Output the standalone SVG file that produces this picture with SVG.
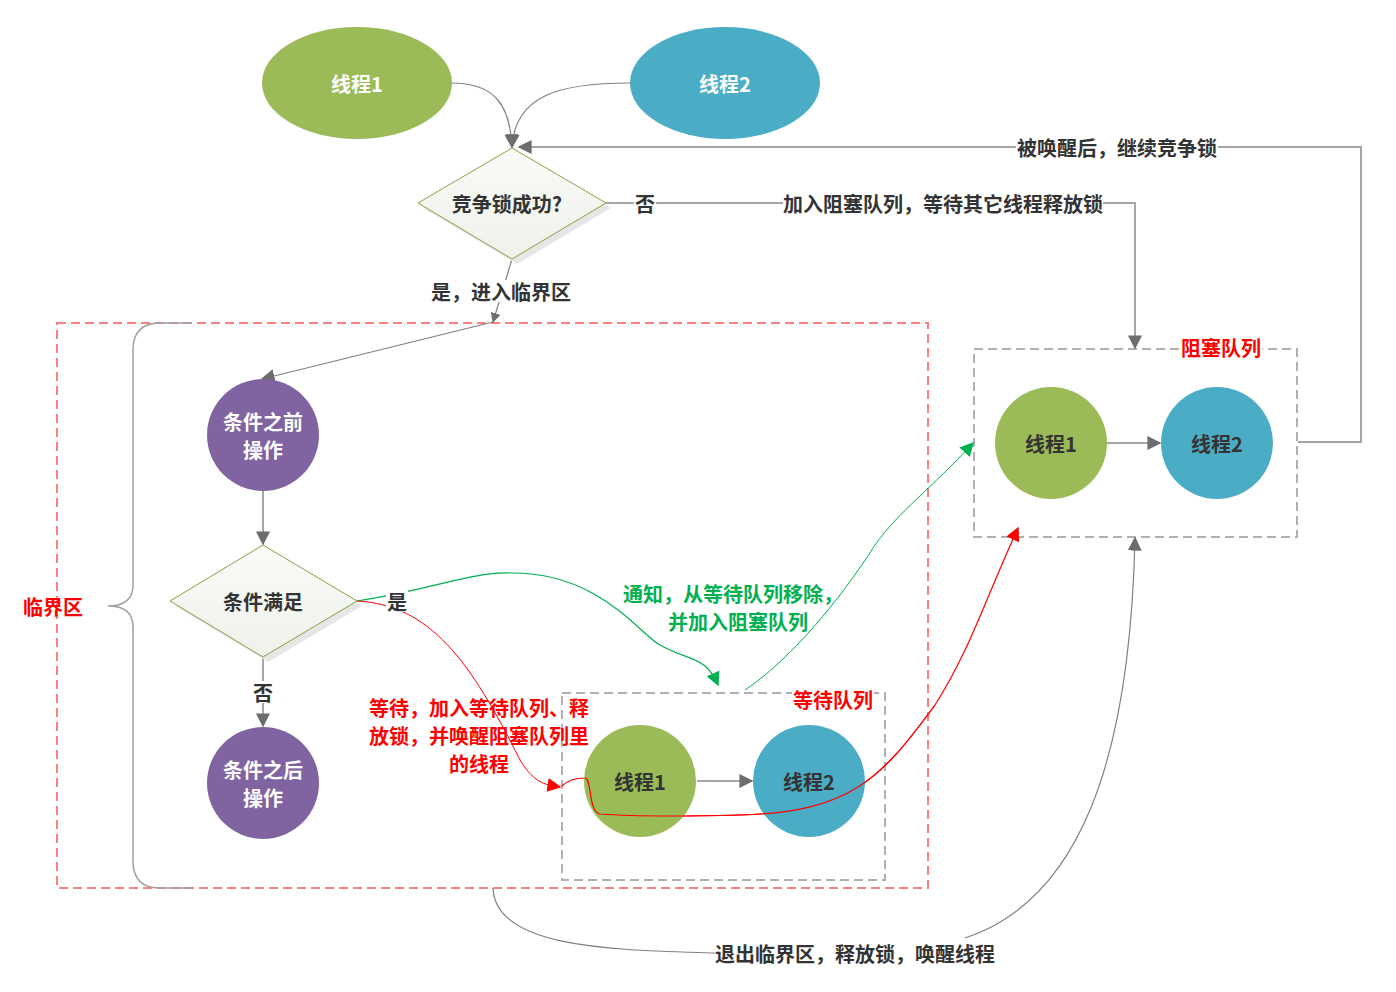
<svg xmlns="http://www.w3.org/2000/svg" width="1396" height="992" viewBox="0 0 1396 992">
<style>
text{font-family:"Noto Sans CJK SC","Liberation Sans",sans-serif;font-weight:bold;font-size:20px;text-anchor:middle;dominant-baseline:central;fill:#333}
.w{fill:#fff}
.red{fill:#f00}
.grn{fill:#00b050}
.c{fill:none;stroke:#808080;stroke-width:1.2}
.cg{fill:none;stroke:#a6a6a6;stroke-width:2}
.bg{fill:#fff;stroke:none}
</style>
<defs>
<marker id="ah" viewBox="0 0 10 10" refX="9" refY="5" markerWidth="10" markerHeight="10" markerUnits="userSpaceOnUse" orient="auto"><path d="M0,0L10,5L0,10z" fill="#6d6d6d"/></marker>
<marker id="ahL" viewBox="0 0 10 10" refX="9" refY="5" markerWidth="14" markerHeight="14" markerUnits="userSpaceOnUse" orient="auto"><path d="M0,0L10,5L0,10z" fill="#6d6d6d"/></marker>
<marker id="ahG" viewBox="0 0 10 10" refX="9" refY="5" markerWidth="14" markerHeight="14" markerUnits="userSpaceOnUse" orient="auto"><path d="M0,0L10,5L0,10z" fill="#00b050"/></marker>
<marker id="ahR" viewBox="0 0 10 10" refX="9" refY="5" markerWidth="14" markerHeight="14" markerUnits="userSpaceOnUse" orient="auto"><path d="M0,0L10,5L0,10z" fill="#f00"/></marker>
<linearGradient id="dg" x1="0" y1="0" x2="0" y2="1"><stop offset="0" stop-color="#fafbf8"/><stop offset="1" stop-color="#eef2ea"/></linearGradient>
</defs>
<rect width="1396" height="992" fill="#fff"/>

<g id="containers">
<rect x="57" y="323" width="871" height="565" fill="none" stroke="#ff7f7f" stroke-width="2" stroke-dasharray="9,5"/>
<rect x="974" y="349" width="323" height="188" fill="none" stroke="#b0b0b0" stroke-width="2" stroke-dasharray="9,5"/>
<rect x="562" y="693" width="323" height="187" fill="none" stroke="#b0b0b0" stroke-width="2" stroke-dasharray="9,5"/>
<path d="M192,323 L160,323 Q133,323 133,350 L133,585 Q133,606 108,606 Q133,606 133,627 L133,861 Q133,888 160,888 L192,888" fill="none" stroke="#a0a0a0" stroke-width="1.5"/>
<rect x="1180" y="336" width="82" height="22" class="bg"/>
<text x="1221" y="347" class="red">阻塞队列</text>
<rect x="792" y="688" width="82" height="22" class="bg"/>
<text x="833" y="699" class="red">等待队列</text>
<text x="53" y="606" class="red">临界区</text>
</g>

<g id="connectors">
<path d="M451,83 C495,83 510,105 512,147" class="c" marker-end="url(#ahL)"/>
<path d="M630,83 C560,83 515,95 512,147" class="c" marker-end="url(#ahL)"/>
<path d="M1298,442 L1361,442 L1361,147 L519,147" class="cg" marker-end="url(#ahL)"/>
<path d="M606,203 L1135,203 L1135,348" class="cg" marker-end="url(#ahL)"/>
<path d="M512,259 L493,322" class="c" marker-end="url(#ah)"/>
<path d="M493,322 L262,379" class="c" marker-end="url(#ahL)"/>
<path d="M263,491 L263,544" class="cg" marker-end="url(#ahL)"/>
<path d="M263,657 L263,726" class="cg" marker-end="url(#ahL)"/>
<path d="M1107,443 L1160,443" class="cg" marker-end="url(#ahL)"/>
<path d="M697,781 L752,781" class="cg" marker-end="url(#ahL)"/>
<path d="M357,601 C430,590 470,572 510,573 C600,572 640,635 660,645 C690,662 705,655 718,685" fill="none" stroke="#00b050" stroke-width="1.2" marker-end="url(#ahG)"/>
<path d="M745,690 C790,660 840,600 875,545 C900,510 930,490 973,443" fill="none" stroke="#00b050" stroke-width="1" marker-end="url(#ahG)"/>
<path d="M357,601 C430,605 470,660 520,760 C535,785 548,785 560,787" fill="none" stroke="#f00" stroke-width="1" marker-end="url(#ahR)"/>
<path d="M562,786 C568,780 578,778 585,778 C592,778 588,812 600,814 C640,817 700,816 740,815 C850,812 880,780 935,705 C970,650 985,600 1018,528" fill="none" stroke="#f00" stroke-width="1.2" marker-end="url(#ahR)"/>
<path d="M493,888 C495,950 620,950 715,953" class="c"/>
<path d="M965,938 C1080,900 1130,760 1135,538" class="c" marker-end="url(#ahL)"/>
<rect x="1016" y="136" width="202" height="22" class="bg"/>
<text x="1117" y="147">被唤醒后，继续竞争锁</text>
<rect x="634" y="192" width="22" height="22" class="bg"/>
<text x="645" y="203">否</text>
<rect x="783" y="192" width="320" height="22" class="bg"/>
<text x="943" y="203">加入阻塞队列，等待其它线程释放锁</text>
<rect x="430" y="280" width="142" height="22" class="bg"/>
<text x="501" y="291">是，进入临界区</text>
<rect x="386" y="590" width="22" height="22" class="bg"/>
<text x="397" y="601">是</text>
<rect x="252" y="681" width="22" height="22" class="bg"/>
<text x="263" y="692">否</text>
<text x="733" y="593" class="grn">通知，从等待队列移除，</text>
<text x="738" y="621" class="grn">并加入阻塞队列</text>
<text x="479" y="707" class="red">等待，加入等待队列、释</text>
<text x="479" y="735" class="red">放锁，并唤醒阻塞队列里</text>
<text x="479" y="763" class="red">的线程</text>
<text x="855" y="953">退出临界区，释放锁，唤醒线程</text>
</g>

<g id="t1-top"><ellipse cx="357" cy="83" rx="95" ry="56" fill="#9bbb59"/><text x="357" y="83" class="w">线程1</text></g>
<g id="t2-top"><ellipse cx="725" cy="83" rx="95" ry="56" fill="#4bacc6"/><text x="725" y="83" class="w">线程2</text></g>
<g id="compete"><polygon points="517,153 611,208 517,264 423,208" fill="#e6e6e6"/><polygon points="512,148 606,203 512,259 418,203" fill="url(#dg)" stroke="#8aa045" stroke-width="1"/><text x="507" y="203">竞争锁成功?</text></g>
<g id="before"><circle cx="263" cy="435" r="56" fill="#8064a2"/><text x="263" y="421" class="w">条件之前</text><text x="263" y="449" class="w">操作</text></g>
<g id="cond"><polygon points="268,550 362,606 268,662 175,606" fill="#e6e6e6"/><polygon points="263,545 357,601 263,657 170,601" fill="url(#dg)" stroke="#8aa045" stroke-width="1"/><text x="263" y="601">条件满足</text></g>
<g id="after"><circle cx="263" cy="783" r="56" fill="#8064a2"/><text x="263" y="769" class="w">条件之后</text><text x="263" y="797" class="w">操作</text></g>
<g id="b-t1"><circle cx="1051" cy="443" r="56" fill="#9bbb59"/><text x="1051" y="443">线程1</text></g>
<g id="b-t2"><circle cx="1217" cy="443" r="56" fill="#4bacc6"/><text x="1217" y="443">线程2</text></g>
<g id="w-t1"><circle cx="640" cy="781" r="56" fill="#9bbb59"/><text x="640" y="781">线程1</text></g>
<g id="w-t2"><circle cx="809" cy="781" r="56" fill="#4bacc6"/><text x="809" y="781">线程2</text></g>
<g id="red-over"><path d="M585,778 C592,778 588,812 600,814 C640,817 700,816 740,815 C850,812 880,780 935,705" fill="none" stroke="#f00" stroke-width="1.2"/></g>
</svg>
